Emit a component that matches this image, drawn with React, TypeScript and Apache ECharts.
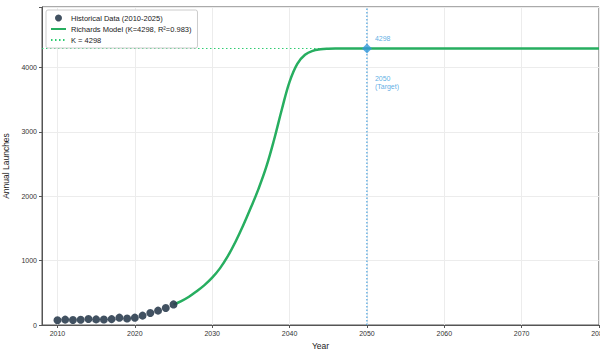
import React, { useEffect, useRef } from "react";
import * as echarts from "echarts";

const histYears = [2010, 2011, 2012, 2013, 2014, 2015, 2016, 2017, 2018, 2019, 2020, 2021, 2022, 2023, 2024, 2025];
const histValues = [74, 84, 78, 81, 92, 87, 85, 91, 114, 102, 114, 146, 186, 223, 263, 320];

const curveYears = [2025, 2026, 2027, 2028, 2029, 2030, 2031, 2032, 2033, 2034, 2035, 2036, 2037, 2038, 2039, 2040, 2041, 2042, 2043, 2044, 2045, 2046, 2048, 2050, 2060, 2070, 2080];
const curveValues = [318, 372, 440, 525, 620, 735, 880, 1065, 1290, 1545, 1825, 2120, 2460, 2880, 3350, 3780, 4060, 4200, 4262, 4285, 4294, 4297, 4298, 4298, 4298, 4298, 4298];

const K = 4298;
const targetYear = 2050;
const yMax = 4943;
const xTicks = [2010, 2020, 2030, 2040, 2050, 2060, 2070, 2080];

const FONT = "Liberation Sans, Arial, sans-serif";

export default function App() {
  const ref = useRef<HTMLDivElement>(null);
  useEffect(() => {
    if (!ref.current) return;
    const chart = echarts.init(ref.current, undefined, { renderer: "svg" });
    chart.setOption({
      animation: false,
      textStyle: { fontFamily: FONT },
      grid: {
        left: 42, right: 1, top: 7, bottom: 26,
        show: true, borderColor: "#555", borderWidth: 1,
        containLabel: false, outerBoundsMode: "none",
      },
      legend: {
        orient: "vertical",
        left: 46,
        top: 10,
        padding: [4, 6, 4, 4],
        itemWidth: 15,
        itemHeight: 7,
        itemGap: 3,
        borderColor: "#ccc",
        borderWidth: 1,
        borderRadius: 2,
        backgroundColor: "#fff",
        textStyle: { fontSize: 7.5, color: "#222", fontFamily: FONT },
        data: [
          { name: "Historical Data (2010-2025)", icon: "circle" },
          { name: "Richards Model (K=4298, R²=0.983)", itemStyle: { opacity: 0 } },
          { name: "K = 4298", itemStyle: { opacity: 0 } },
        ],
      },
      xAxis: {
        type: "value",
        min: 2008,
        max: 2080,
        name: "Year",
        nameLocation: "middle",
        nameGap: 14,
        nameTextStyle: { fontSize: 8.5, color: "#222", fontFamily: FONT },
        axisLine: { show: true, lineStyle: { color: "#555", width: 1 } },
        axisTick: { show: true, length: 3, lineStyle: { color: "#555" }, customValues: xTicks },
        axisLabel: { fontSize: 7, color: "#333", margin: 5, customValues: xTicks, formatter: (v: number) => String(v) },
        splitLine: { show: true, lineStyle: { color: "#ececec", width: 1 } },
      },
      yAxis: {
        type: "value",
        min: 0,
        max: yMax,
        interval: 1000,
        name: "Annual Launches",
        nameLocation: "middle",
        nameGap: 27,
        nameTextStyle: { fontSize: 8.5, color: "#222", fontFamily: FONT },
        axisLine: { show: true, lineStyle: { color: "#555", width: 1 } },
        axisTick: { show: true, length: 3, lineStyle: { color: "#555" } },
        axisLabel: {
          fontSize: 7, color: "#333", margin: 5,
          formatter: (v: number) => (v % 1000 === 0 ? String(v) : ""),
        },
        splitLine: { show: true, lineStyle: { color: "#ececec", width: 1 } },
      },
      series: [
        {
          name: "K = 4298",
          type: "line",
          symbol: "none",
          data: [[2008, K], [2080, K]],
          lineStyle: { color: "#2ecc71", width: 1, type: [1.5, 2.5] },
          itemStyle: { color: "#2ecc71" },
          z: 2,
        },
        {
          name: "targetLine",
          type: "line",
          symbol: "none",
          data: [[targetYear, 0], [targetYear, yMax]],
          lineStyle: { color: "#3498db", width: 1.1, type: [1.5, 2] },
          itemStyle: { color: "#3498db" },
          z: 2,
        },
        {
          name: "Richards Model (K=4298, R²=0.983)",
          type: "line",
          symbol: "none",
          smooth: 0.4,
          data: curveYears.map((y, i) => [y, curveValues[i]]),
          lineStyle: { color: "#27ae60", width: 2.5 },
          itemStyle: { color: "#27ae60" },
          z: 3,
        },
        {
          name: "Historical Data (2010-2025)",
          type: "scatter",
          symbol: "circle",
          symbolSize: 8,
          data: histYears.map((y, i) => [y, histValues[i]]),
          itemStyle: { color: "#2c3e50", opacity: 0.9 },
          z: 4,
        },
        {
          name: "target",
          type: "scatter",
          symbol: "diamond",
          symbolSize: 10,
          data: [[targetYear, K]],
          itemStyle: { color: "#3498db" },
          label: {
            show: true,
            position: [13, -5],
            formatter: String(K),
            fontSize: 7,
            color: "#3498db",
            align: "left",
            verticalAlign: "middle",
            fontFamily: FONT,
          },
          z: 5,
        },
        {
          name: "targetLabel",
          type: "scatter",
          symbolSize: 10,
          data: [[targetYear, K]],
          itemStyle: { color: "transparent" },
          label: {
            show: true,
            position: [13, 39],
            formatter: String(targetYear) + "\n(Target)",
            fontSize: 7,
            lineHeight: 8,
            color: "#3498db",
            align: "left",
            verticalAlign: "middle",
            fontFamily: FONT,
          },
          z: 1,
        },
      ],
    });
    return () => chart.dispose();
  }, []);
  return <div ref={ref} style={{ position: "fixed", left: 0, top: 0, width: 600, height: 351, background: "#fff" }} />;
}
